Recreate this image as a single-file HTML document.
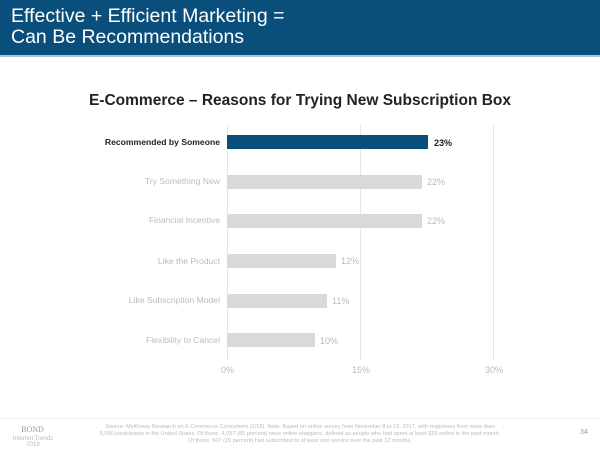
<!DOCTYPE html>
<html><head><style>
body{margin:0;width:600px;height:450px;background:#fff;font-family:"Liberation Sans",Arial,sans-serif;position:relative;overflow:hidden}
.hdr{position:absolute;left:0;top:0;width:600px;height:55px;background:#0a4f7c;color:#fff;font-size:19.5px;line-height:21px;padding:6px 0 0 11px;box-sizing:border-box}
.hl{position:absolute;left:0;top:55px;width:600px;height:2px;background:#a9c6dc}
.t{position:absolute;left:0;width:600px;text-align:center;top:92px;font-weight:bold;font-size:15.5px;color:#222}
.g{position:absolute;top:125px;width:1px;height:235px;background:#e6e6e6}
.lab{position:absolute;right:380px;font-size:8.6px;color:#bbb;text-align:right;white-space:nowrap}
.bar{position:absolute;left:227px;height:14px;background:#d9d9d9}
.v{position:absolute;font-size:9px;color:#bbb}
.tk{position:absolute;top:365px;font-size:9px;color:#bbb}
.f{position:absolute;font-size:5.6px;color:#bbb;text-align:center}
</style></head><body>
<div class="hdr">Effective + Efficient Marketing =<br>Can Be Recommendations</div>
<div class="hl"></div>
<div class="t">E-Commerce – Reasons for Trying New Subscription Box</div>
<div class="g" style="left:227px"></div><div class="g" style="left:360px"></div><div class="g" style="left:493px"></div>

<div class="lab" style="top:137px;color:#222;font-weight:bold">Recommended by Someone</div>
<div class="bar" style="top:135px;width:201px;background:#0a4f7c"></div>
<div class="v" style="left:434px;top:138px;color:#222;font-weight:bold">23%</div>

<div class="lab" style="top:176px">Try Something New</div>
<div class="bar" style="top:175px;width:195px"></div>
<div class="v" style="left:427px;top:177px">22%</div>

<div class="lab" style="top:215px">Financial Incentive</div>
<div class="bar" style="top:214px;width:195px"></div>
<div class="v" style="left:427px;top:216px">22%</div>

<div class="lab" style="top:256px">Like the Product</div>
<div class="bar" style="top:254px;width:109px"></div>
<div class="v" style="left:341px;top:256px">12%</div>

<div class="lab" style="top:295px">Like Subscription Model</div>
<div class="bar" style="top:294px;width:100px"></div>
<div class="v" style="left:332px;top:296px">11%</div>

<div class="lab" style="top:335px">Flexibility to Cancel</div>
<div class="bar" style="top:333px;width:88px"></div>
<div class="v" style="left:320px;top:336px">10%</div>

<div class="tk" style="left:221px">0%</div>
<div class="tk" style="left:352px">15%</div>
<div class="tk" style="left:485px">30%</div>

<div style="position:absolute;left:0;top:418px;width:600px;height:1px;background:#eee"></div>
<div class="f" style="left:10px;top:425px;width:45px;font-size:8px;font-family:'Liberation Serif',serif;color:#999">BOND</div>
<div class="f" style="left:8px;top:436px;width:50px;font-size:6px">Internet Trends<br>2018</div>
<div class="f" style="left:98px;top:424px;width:404px;line-height:7px">Source: McKinsey Research on E-Commerce Consumers (2/18). Note: Based on online survey from November 8 to 12, 2017, with responses from more than 5,000 participants in the United States. Of those, 4,057 (80 percent) were online shoppers, defined as people who had spent at least $25 online in the past month. Of those, 607 (15 percent) had subscribed to at least one service over the past 12 months.</div>
<div class="f" style="left:580px;top:429px;font-size:7px;color:#999">34</div>
</body></html>
